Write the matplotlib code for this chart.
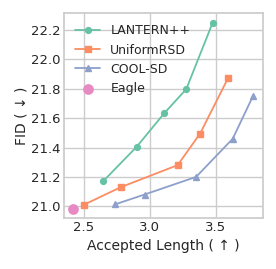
import matplotlib
matplotlib.use("Agg")
import matplotlib.pyplot as plt
import seaborn as sns

sns.set_theme(style="whitegrid")
plt.rcParams['font.family'] = ['DejaVu Sans']

pal = sns.color_palette("Set2")

lantern_x = [2.646, 2.90, 3.11, 3.275, 3.475]
lantern_y = [21.17, 21.405, 21.635, 21.797, 22.25]
uniform_x = [2.50, 2.78, 3.21, 3.38, 3.59]
uniform_y = [21.01, 21.13, 21.28, 21.495, 21.87]
cool_x = [2.737, 2.96, 3.35, 3.627, 3.78]
cool_y = [21.013, 21.08, 21.20, 21.46, 21.75]
eagle_x = [2.42]
eagle_y = [20.98]

fig = plt.figure(figsize=(2.76, 2.69), dpi=100)
ax = fig.add_axes([64/276, 1-218/269, (263-64)/276, (218-13)/269])

ax.plot(lantern_x, lantern_y, marker='o', color=pal[0], lw=1.3, ms=4.2, label='LANTERN++')
ax.plot(uniform_x, uniform_y, marker='s', color=pal[1], lw=1.3, ms=4.2, label='UniformRSD')
ax.plot(cool_x, cool_y, marker='^', color=pal[2], lw=1.3, ms=4.5, label='COOL-SD')
ax.scatter(eagle_x, eagle_y, s=45, color=pal[3], label='Eagle', zorder=3)

ax.set_xlim(2.35, 3.856)
ax.set_ylim(20.92, 22.316)
ax.set_xticks([2.5, 3.0, 3.5])
ax.set_yticks([21.0, 21.2, 21.4, 21.6, 21.8, 22.0, 22.2])
ax.tick_params(labelsize=9.5, pad=2.5, length=0)
ax.set_xlabel('Accepted Length ( ↑ )', fontsize=10, labelpad=3)
ax.set_ylabel('FID ( ↓ )', fontsize=10, labelpad=2)
ax.legend(loc='upper left', fontsize=9, frameon=False)

fig.savefig('out.png', dpi=100)
